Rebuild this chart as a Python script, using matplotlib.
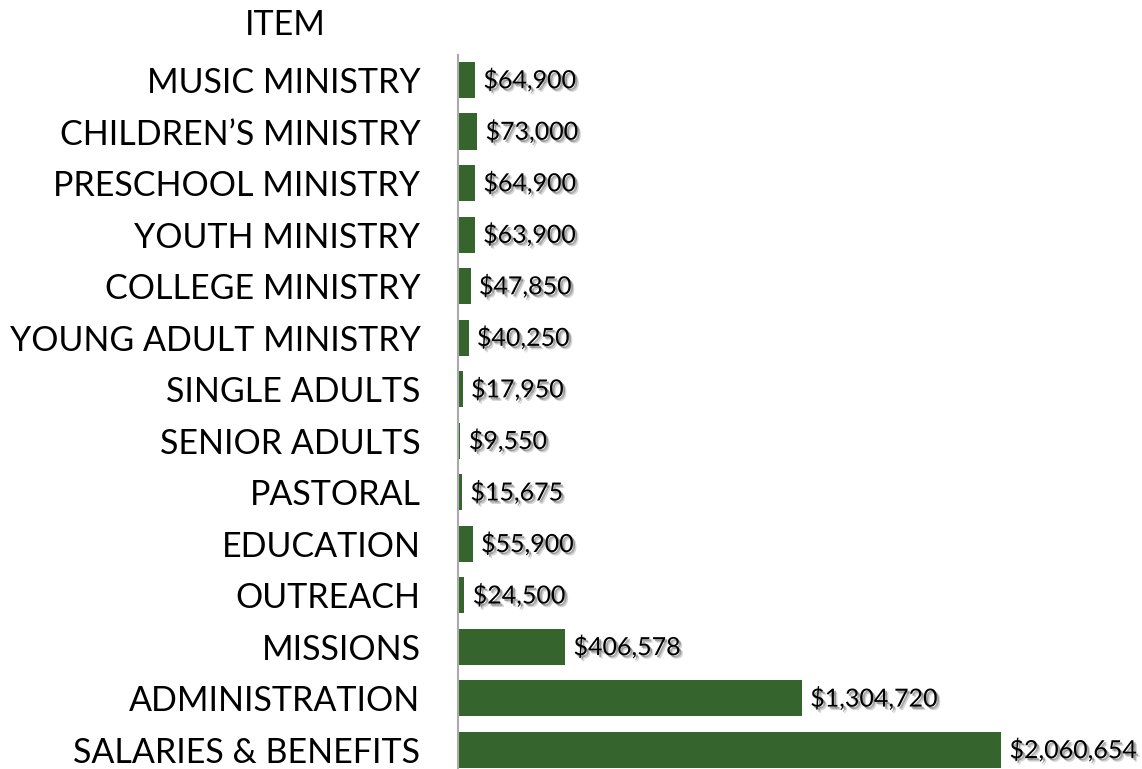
import matplotlib
matplotlib.use('Agg')
import matplotlib.pyplot as plt
import matplotlib.patheffects as pe

# data, listed top to bottom as in the chart
items = ['MUSIC MINISTRY', 'CHILDREN\u2019S MINISTRY', 'PRESCHOOL MINISTRY',
         'YOUTH MINISTRY', 'COLLEGE MINISTRY', 'YOUNG ADULT MINISTRY',
         'SINGLE ADULTS', 'SENIOR ADULTS', 'PASTORAL', 'EDUCATION',
         'OUTREACH', 'MISSIONS', 'ADMINISTRATION', 'SALARIES & BENEFITS']
amounts = [64900, 73000, 64900, 63900, 47850, 40250, 17950, 9550,
           15675, 55900, 24500, 406578, 1304720, 2060654]

plt.rcParams['font.family'] = ['Lato', 'DejaVu Sans']

fig = plt.figure(figsize=(11.42, 7.69), dpi=100)
ax = fig.add_axes([0.401, 0.0, 0.599, 0.9285])

ypos = list(range(len(items)))
ax.barh(ypos, amounts, height=0.7, color='#35642D')

# soft drop shadow behind the value labels
shadow = [pe.SimplePatchShadow(offset=(2.5, -2.5), shadow_rgbFace='#888888', alpha=0.35),
          pe.SimplePatchShadow(offset=(1.5, -1.5), shadow_rgbFace='#444444', alpha=0.45),
          pe.Normal()]
for y, v in zip(ypos, amounts):
    ax.annotate('${:,}'.format(v), xy=(v, y), xytext=(6, 0), textcoords='offset points',
                va='center', ha='left', fontsize=18, color='black', path_effects=shadow)

ax.set_xlim(0, 2595000)
ax.set_ylim(13.37, -0.485)
ax.set_yticks(ypos)
ax.set_yticklabels(items, fontsize=24.5)
ax.tick_params(axis='y', length=0, pad=27)
ax.set_xticks([])
for s in ['top', 'right', 'bottom']:
    ax.spines[s].set_visible(False)
ax.spines['left'].set_color('#aaaaaa')
ax.spines['left'].set_linewidth(1.5)

fig.text(285 / 1142, 1 - 25 / 769, 'ITEM', ha='center', va='center', fontsize=24.5)

fig.savefig('out.png', dpi=100, facecolor='white')
